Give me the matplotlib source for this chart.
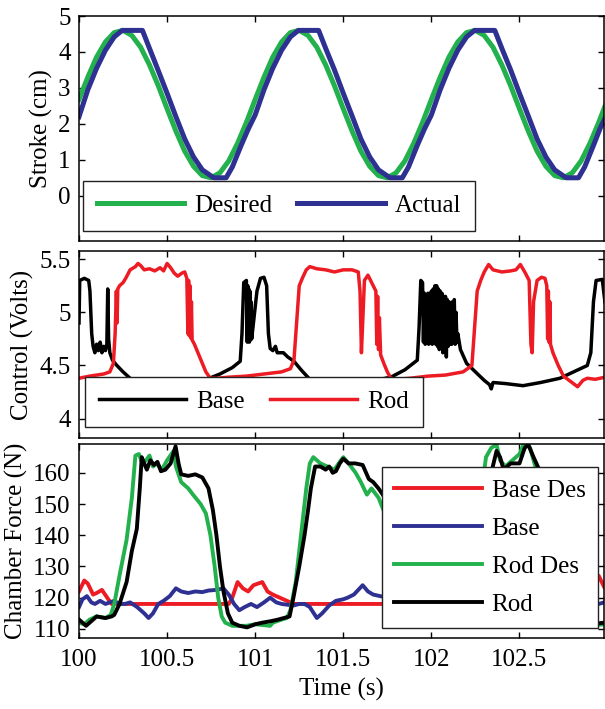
#!/usr/bin/python
"""
    Stroke, control voltage and chamber force against time,
    three stacked panels sharing the time axis.
"""

# import python third party modules
import matplotlib
matplotlib.use('Agg')
import matplotlib.pyplot as plt
import numpy as np

# define global variables
GREEN = '#22b14c'
BLUE = '#2e3192'
RED = '#ed1c24'
BLACK = '#000000'

# --- stroke (cm) ---
stroke_t = np.round(np.arange(100.0, 103.001, 0.05), 2)
stroke_des = [
    2.68, 3.30, 3.86, 4.28, 4.54, 4.60, 4.46, 4.13, 3.64, 3.06,
    2.42, 1.80, 1.24, 0.82, 0.56, 0.50, 0.64, 0.97, 1.46, 2.04,
    2.68, 3.30, 3.86, 4.28, 4.54, 4.60, 4.46, 4.13, 3.64, 3.06,
    2.42, 1.80, 1.24, 0.82, 0.56, 0.50, 0.64, 0.97, 1.46, 2.04,
    2.68, 3.30, 3.86, 4.28, 4.54, 4.60, 4.46, 4.13, 3.64, 3.06,
    2.42, 1.80, 1.24, 0.82, 0.56, 0.50, 0.64, 0.97, 1.46, 2.04,
    2.68,
]
actual_t = [
    100.00, 100.05, 100.10, 100.15, 100.20, 100.245, 100.36, 100.40,
    100.45, 100.50, 100.55, 100.60, 100.65, 100.70, 100.765, 100.835,
    100.87, 100.92, 100.96,
    101.00, 101.05, 101.10, 101.15, 101.20, 101.245, 101.36, 101.40,
    101.45, 101.50, 101.55, 101.60, 101.65, 101.70, 101.765, 101.835,
    101.87, 101.92, 101.96,
    102.00, 102.05, 102.10, 102.15, 102.20, 102.245, 102.36, 102.40,
    102.45, 102.50, 102.55, 102.60, 102.65, 102.70, 102.765, 102.835,
    102.87, 102.92, 102.96, 103.00,
]
actual_v = [
    2.20, 2.95, 3.55, 4.05, 4.42, 4.60, 4.60, 4.10,
    3.48, 2.85, 2.20, 1.58, 1.08, 0.72, 0.50, 0.50,
    0.80, 1.40, 1.85,
    2.25, 2.95, 3.55, 4.05, 4.42, 4.60, 4.60, 4.10,
    3.50, 2.85, 2.22, 1.58, 1.08, 0.72, 0.50, 0.50,
    0.80, 1.40, 1.85,
    2.25, 2.95, 3.55, 4.05, 4.42, 4.60, 4.60, 4.10,
    3.50, 2.85, 2.22, 1.58, 1.08, 0.72, 0.50, 0.50,
    0.80, 1.40, 1.90, 2.30,
]

# --- control (Volts) ---
base_ctl_t = [
    100.000, 100.004, 100.030, 100.055, 100.062, 100.072, 100.080, 100.090,
    100.100, 100.110, 100.120, 100.130, 100.140, 100.150, 100.158, 100.163,
    100.168, 100.175, 100.190, 100.215, 100.250, 100.290, 100.330, 100.340,
    100.350, 100.450, 100.550, 100.650, 100.740, 100.800, 100.870, 100.915,
    100.925, 100.935, 100.950, 100.955, 100.958, 100.961, 100.964, 100.967,
    100.970, 100.973, 100.976, 100.980, 100.990, 101.010, 101.030, 101.050,
    101.065, 101.075, 101.085, 101.100, 101.115, 101.125, 101.160, 101.185,
    101.220, 101.260, 101.310, 101.330, 101.400, 101.550, 101.650, 101.770,
    101.850, 101.920, 101.930, 101.940, 101.950,
    101.955, 101.960, 101.965, 101.970, 101.975, 101.980, 101.985, 101.990,
    101.995, 102.000, 102.005, 102.010, 102.015, 102.020, 102.025, 102.030,
    102.035, 102.040, 102.045, 102.050, 102.055, 102.060, 102.065, 102.070,
    102.075, 102.080, 102.085, 102.090, 102.095, 102.100, 102.105, 102.110,
    102.115, 102.120, 102.125, 102.130, 102.135, 102.140, 102.145, 102.150,
    102.165, 102.200, 102.250, 102.300, 102.330, 102.340, 102.350, 102.420,
    102.520, 102.620, 102.730, 102.820, 102.885, 102.905, 102.920, 102.935,
    102.970, 102.985,
]
base_ctl_v = [
    4.90, 5.30, 5.32, 5.30, 5.20, 4.80, 4.68, 4.62,
    4.70, 4.64, 4.72, 4.62, 4.68, 4.64, 4.70, 5.22,
    4.75, 4.62, 4.55, 4.50, 4.44, 4.38, 4.33, 4.29,
    4.34, 4.32, 4.32, 4.35, 4.38, 4.42, 4.48, 4.54,
    4.80, 5.28, 5.30, 4.72, 5.25, 4.74, 5.22, 4.72,
    5.20, 4.74, 5.10, 4.75, 4.90, 5.20, 5.32, 5.33,
    5.25, 4.80, 4.66, 4.64, 4.68, 4.62, 4.62, 4.58,
    4.54, 4.46, 4.37, 4.33, 4.32, 4.32, 4.35, 4.39,
    4.46, 4.55, 4.85, 5.30, 5.28,
    4.72, 5.18, 4.70, 5.15, 4.72, 5.18, 4.70, 5.15,
    4.72, 5.20, 4.70, 5.22, 4.72, 5.25, 4.70, 5.25,
    4.68, 5.22, 4.65, 5.20, 4.68, 5.18, 4.62, 5.15,
    4.66, 5.15, 4.58, 5.12, 4.68, 5.10, 4.70, 5.05,
    4.70, 5.10, 4.72, 5.12, 4.70, 5.00, 4.72, 4.80,
    4.65, 4.52, 4.44, 4.36, 4.32, 4.28, 4.34, 4.33,
    4.31, 4.34, 4.38, 4.45, 4.50, 4.62, 5.10, 5.30,
    5.31, 5.10,
]
rod_ctl_t = [
    100.000, 100.030, 100.060, 100.100, 100.140, 100.175, 100.195, 100.205,
    100.212, 100.216, 100.220, 100.230, 100.250, 100.265, 100.290, 100.320,
    100.335, 100.350, 100.370, 100.400, 100.430, 100.460, 100.480, 100.500,
    100.520, 100.540, 100.560, 100.585, 100.600, 100.612, 100.618, 100.622,
    100.626, 100.630, 100.634, 100.638, 100.642, 100.655, 100.680, 100.700,
    100.720, 100.745, 100.780, 100.850, 100.950, 101.050, 101.150, 101.200,
    101.220, 101.235, 101.250, 101.270, 101.290, 101.310, 101.350, 101.400,
    101.450, 101.500, 101.550, 101.585, 101.595, 101.603, 101.610, 101.620,
    101.640, 101.655, 101.670, 101.685, 101.690, 101.695, 101.700, 101.705,
    101.712, 101.730, 101.750, 101.770, 101.800, 101.880, 101.980, 102.080,
    102.180, 102.230, 102.245, 102.260, 102.280, 102.300, 102.325, 102.350,
    102.400, 102.450, 102.480, 102.505, 102.530, 102.555, 102.565, 102.572,
    102.580, 102.600, 102.625, 102.645, 102.655, 102.660, 102.664, 102.668,
    102.672, 102.676, 102.690, 102.720, 102.750, 102.790, 102.830, 102.860,
    102.885, 102.930, 102.985,
]
rod_ctl_v = [
    4.38, 4.39, 4.40, 4.41, 4.42, 4.44, 4.52, 4.80,
    5.20, 4.90, 5.22, 5.25, 5.28, 5.32, 5.40, 5.43,
    5.46, 5.44, 5.40, 5.41, 5.39, 5.42, 5.39, 5.46,
    5.42, 5.37, 5.34, 5.37, 5.38, 5.32, 4.80, 5.30,
    4.78, 5.25, 4.76, 5.10, 4.74, 4.70, 4.60, 4.52,
    4.44, 4.38, 4.38, 4.39, 4.40, 4.42, 4.44, 4.47,
    4.55, 4.90, 5.25, 5.33, 5.40, 5.43, 5.41, 5.40,
    5.38, 5.40, 5.40, 5.38, 5.20, 4.62, 4.90, 5.30,
    5.35, 5.30, 5.25, 5.20, 4.70, 5.15, 4.65, 4.95,
    4.60, 4.52, 4.44, 4.38, 4.37, 4.38, 4.40, 4.41,
    4.44, 4.50, 4.85, 5.20, 5.30, 5.38, 5.45, 5.40,
    5.38, 5.39, 5.40, 5.45, 5.38, 5.30, 4.70, 4.62,
    5.10, 5.30, 5.33, 5.32, 5.25, 4.75, 5.20, 4.72,
    5.10, 4.70, 4.62, 4.50, 4.40, 4.35, 4.30, 4.36,
    4.38, 4.37, 4.39,
]

# --- chamber force (N) ---
base_des_t = [
    100.00, 100.03, 100.05, 100.08, 100.10, 100.13, 100.16, 100.185,
    100.85, 100.87, 100.90, 100.93, 100.96, 100.99, 101.04, 101.07,
    101.10, 101.14, 101.18, 101.22,
    101.85, 101.87, 101.90, 101.93, 101.96, 101.99, 102.04, 102.07,
    102.10, 102.14, 102.18, 102.22,
    102.85, 102.88, 102.92, 102.95, 102.98,
]
base_des_f = [
    122.0, 125.5, 124.5, 121.0, 121.5, 122.5, 120.0, 118.0,
    118.0, 120.0, 125.0, 123.0, 122.0, 124.0, 125.0, 122.0,
    121.0, 120.0, 119.0, 118.0,
    118.0, 120.0, 125.0, 123.0, 122.0, 124.0, 125.0, 122.0,
    121.0, 120.0, 119.0, 118.0,
    118.0, 122.0, 126.0, 127.0, 123.5,
]
base_t = [
    100.00, 100.02, 100.045, 100.07, 100.09, 100.12, 100.15, 100.20,
    100.23, 100.26, 100.29, 100.33, 100.37, 100.395, 100.42, 100.45,
    100.48, 100.515, 100.55, 100.58, 100.62, 100.66, 100.70, 100.735,
    100.78, 100.82, 100.85, 100.88, 100.91, 100.94, 100.976, 101.01,
    101.05, 101.085, 101.12, 101.15, 101.217, 101.25, 101.28, 101.31,
    101.35, 101.38, 101.42, 101.458, 101.50, 101.524, 101.56, 101.61,
    101.64, 101.67, 101.75, 101.85, 101.95, 102.05, 102.20, 102.35,
    102.50, 102.65, 102.80, 102.90, 102.95, 102.98,
]
base_f = [
    117.0, 119.5, 120.5, 118.5, 118.0, 119.0, 118.0, 119.0,
    118.0, 118.0, 118.5, 117.0, 115.0, 113.5, 115.0, 118.0,
    119.0, 120.5, 123.0, 122.0, 121.5, 122.0, 121.8, 122.3,
    122.5, 123.0, 121.0, 118.0, 116.0, 117.0, 118.0, 117.0,
    118.5, 120.0, 118.5, 118.0, 117.5, 118.0, 118.0, 117.0,
    113.5, 115.0, 117.5, 119.0, 119.5, 120.0, 121.0, 124.0,
    122.0, 121.0, 120.0, 121.0, 118.0, 117.0, 118.0, 114.0,
    120.0, 122.0, 122.0, 118.0, 118.0, 118.5,
]
rod_des_t = [
    100.00, 100.03, 100.06, 100.10, 100.15, 100.18, 100.20, 100.233,
    100.27, 100.30, 100.32, 100.34, 100.36, 100.38, 100.40, 100.42,
    100.44, 100.47, 100.50, 100.537, 100.55, 100.58, 100.62, 100.647,
    100.69, 100.72, 100.746, 100.77, 100.79, 100.81, 100.83, 100.87,
    100.95, 101.00, 101.085, 101.10, 101.15, 101.18, 101.20, 101.23,
    101.26, 101.29, 101.31, 101.33, 101.37, 101.41, 101.45, 101.48,
    101.50, 101.53, 101.57, 101.60, 101.634, 101.66, 101.70, 101.75,
    101.79, 101.82, 101.85, 102.00, 102.15, 102.20, 102.24, 102.28,
    102.31, 102.34, 102.37, 102.39, 102.42, 102.46, 102.50, 102.53,
    102.56, 102.60, 102.65, 102.70, 102.75, 102.79, 102.82, 102.90,
    102.98,
]
rod_des_f = [
    112.0, 111.5, 113.0, 114.0, 113.5, 114.5, 118.0, 128.0,
    138.5, 152.0, 165.5, 166.0, 163.0, 164.0, 165.5, 162.0,
    163.0, 161.0, 164.0, 167.0, 162.0, 157.0, 155.0, 153.0,
    150.0, 147.0, 140.0, 130.0, 120.0, 114.0, 112.0, 111.0,
    111.0, 111.5, 111.0, 112.0, 113.0, 113.5, 116.0, 125.0,
    140.0, 155.0, 163.0, 165.0, 163.0, 162.0, 161.0, 163.5,
    165.0, 163.0, 160.0, 157.0, 153.0, 155.0, 152.0, 145.0,
    125.0, 114.0, 112.0, 111.5, 113.0, 116.0, 130.0, 152.0,
    165.0, 168.0, 169.0, 164.0, 162.0, 164.0, 166.0, 170.0,
    168.0, 160.0, 156.0, 150.0, 138.0, 120.0, 112.0, 111.0,
    111.5,
]
rod_t = [
    100.00, 100.04, 100.07, 100.10, 100.15, 100.185, 100.20, 100.23,
    100.27, 100.30, 100.328, 100.345, 100.356, 100.37, 100.385, 100.405,
    100.425, 100.445, 100.465, 100.49, 100.52, 100.548, 100.565, 100.58,
    100.62, 100.66, 100.70, 100.735, 100.76, 100.78, 100.80, 100.82,
    100.845, 100.87, 100.91, 100.954, 101.00, 101.04, 101.09, 101.13,
    101.195, 101.217, 101.25, 101.28, 101.30, 101.316, 101.34, 101.37,
    101.40, 101.42, 101.44, 101.458, 101.48, 101.50, 101.53, 101.568,
    101.61, 101.645, 101.67, 101.70, 101.76, 101.80, 101.84, 101.87,
    101.95, 102.10, 102.20, 102.24, 102.30, 102.34, 102.37, 102.39,
    102.41, 102.45, 102.50, 102.53, 102.55, 102.58, 102.62, 102.68,
    102.73, 102.78, 102.82, 102.85, 102.90, 102.98,
]
rod_f = [
    113.0, 111.0, 112.5, 114.0, 113.5, 114.0, 114.5, 118.0,
    125.0, 135.0, 142.0, 155.0, 165.0, 163.0, 161.0, 164.0,
    162.5, 163.5, 160.5, 161.0, 163.0, 168.5, 163.0, 159.5,
    159.0, 159.5, 158.5, 155.0, 148.0, 140.0, 130.0, 122.0,
    115.0, 112.0, 111.0, 110.5, 111.5, 112.0, 112.5, 113.0,
    114.0, 120.0, 130.0, 140.0, 148.0, 155.0, 162.0, 162.0,
    161.0, 162.0, 160.0, 160.5, 163.0, 164.5, 163.0, 163.0,
    162.5, 158.0, 157.0, 155.0, 150.0, 135.0, 118.0, 112.0,
    111.0, 113.0, 114.0, 122.0, 145.0, 160.0, 167.0, 165.0,
    161.0, 163.0, 163.0, 168.0, 169.0, 165.0, 160.0, 158.0,
    155.0, 140.0, 122.0, 114.0, 111.5, 112.0,
]

x_ticks = [100, 100.5, 101, 101.5, 102, 102.5]
x_ticklabels = ['100', '100.5', '101', '101.5', '102', '102.5']


# define methods
def style_axes(ax):
    """
        MATLAB-like axes: inward ticks on all four sides, no x labels.
    """
    ax.set_xlim(100, 102.98)
    ax.set_xticks(x_ticks)
    ax.tick_params(direction='in', top=True, right=True, length=4,
                   width=1, labelsize=18, pad=6)
    for spine in ax.spines.values():
        spine.set_linewidth(1.1)
    ax.set_xticklabels([])


def add_legend(ax, **kwargs):
    leg = ax.legend(fontsize=18, frameon=True, fancybox=False,
                    framealpha=1, edgecolor='#222222', borderaxespad=0,
                    handlelength=3.5, handletextpad=0.4, **kwargs)
    leg.get_frame().set_linewidth(1.0)
    return leg


if __name__ == '__main__':

    plt.rcParams['font.family'] = ['Liberation Serif', 'DejaVu Serif']
    plt.rcParams['font.size'] = 18

    fig = plt.figure(figsize=(6.05, 7.09), dpi=100)
    ax1 = fig.add_axes([0.1306, 0.6605, 0.8678, 0.3169])
    ax2 = fig.add_axes([0.1306, 0.3818, 0.8678, 0.2646])
    ax3 = fig.add_axes([0.1306, 0.0997, 0.8678, 0.2740])

    # stroke panel
    ax1.plot(stroke_t, stroke_des, color=GREEN, lw=3.6, label='Desired')
    ax1.plot(actual_t, actual_v, color=BLUE, lw=3.6, label='Actual')
    style_axes(ax1)
    ax1.set_ylim(-1.25, 5)
    ax1.set_yticks([0, 1, 2, 3, 4, 5])
    ax1.set_ylabel('Stroke (cm)', labelpad=4)
    add_legend(ax1, loc='lower left', bbox_to_anchor=(0.0076, 0.0445),
               ncol=2, columnspacing=1.0, borderpad=0.55)

    # control panel
    ax2.plot(base_ctl_t, base_ctl_v, color=BLACK, lw=2.5, label='Base')
    ax2.plot(rod_ctl_t, rod_ctl_v, color=RED, lw=2.5, label='Rod')
    style_axes(ax2)
    ax2.set_ylim(3.815, 5.58)
    ax2.set_yticks([4, 4.5, 5, 5.5])
    ax2.set_yticklabels(['4', '4.5', '5', '5.5'])
    ax2.set_ylabel('Control (Volts)', labelpad=4)
    add_legend(ax2, loc='lower left', bbox_to_anchor=(0.0114, 0.062),
               ncol=2, columnspacing=1.0, borderpad=0.55)

    # chamber force panel
    ax3.plot(base_des_t, base_des_f, color=RED, lw=2.8, label='Base Des')
    ax3.plot(base_t, base_f, color=BLUE, lw=2.8, label='Base')
    ax3.plot(rod_des_t, rod_des_f, color=GREEN, lw=2.8, label='Rod Des')
    ax3.plot(rod_t, rod_f, color=BLACK, lw=2.8, label='Rod')
    style_axes(ax3)
    ax3.set_ylim(107, 169.2)
    ax3.set_yticks([110, 120, 130, 140, 150, 160])
    ax3.set_ylabel('Chamber Force (N)', labelpad=4)
    ax3.set_xticklabels(x_ticklabels)
    ax3.tick_params(axis='x', pad=8)
    ax3.set_xlabel('Time (s)', labelpad=5)
    add_legend(ax3, loc='lower right', bbox_to_anchor=(0.9886, 0.0515),
               labelspacing=0.62, borderpad=0.5)

    fig.savefig('out.png', dpi=100, facecolor='white')
